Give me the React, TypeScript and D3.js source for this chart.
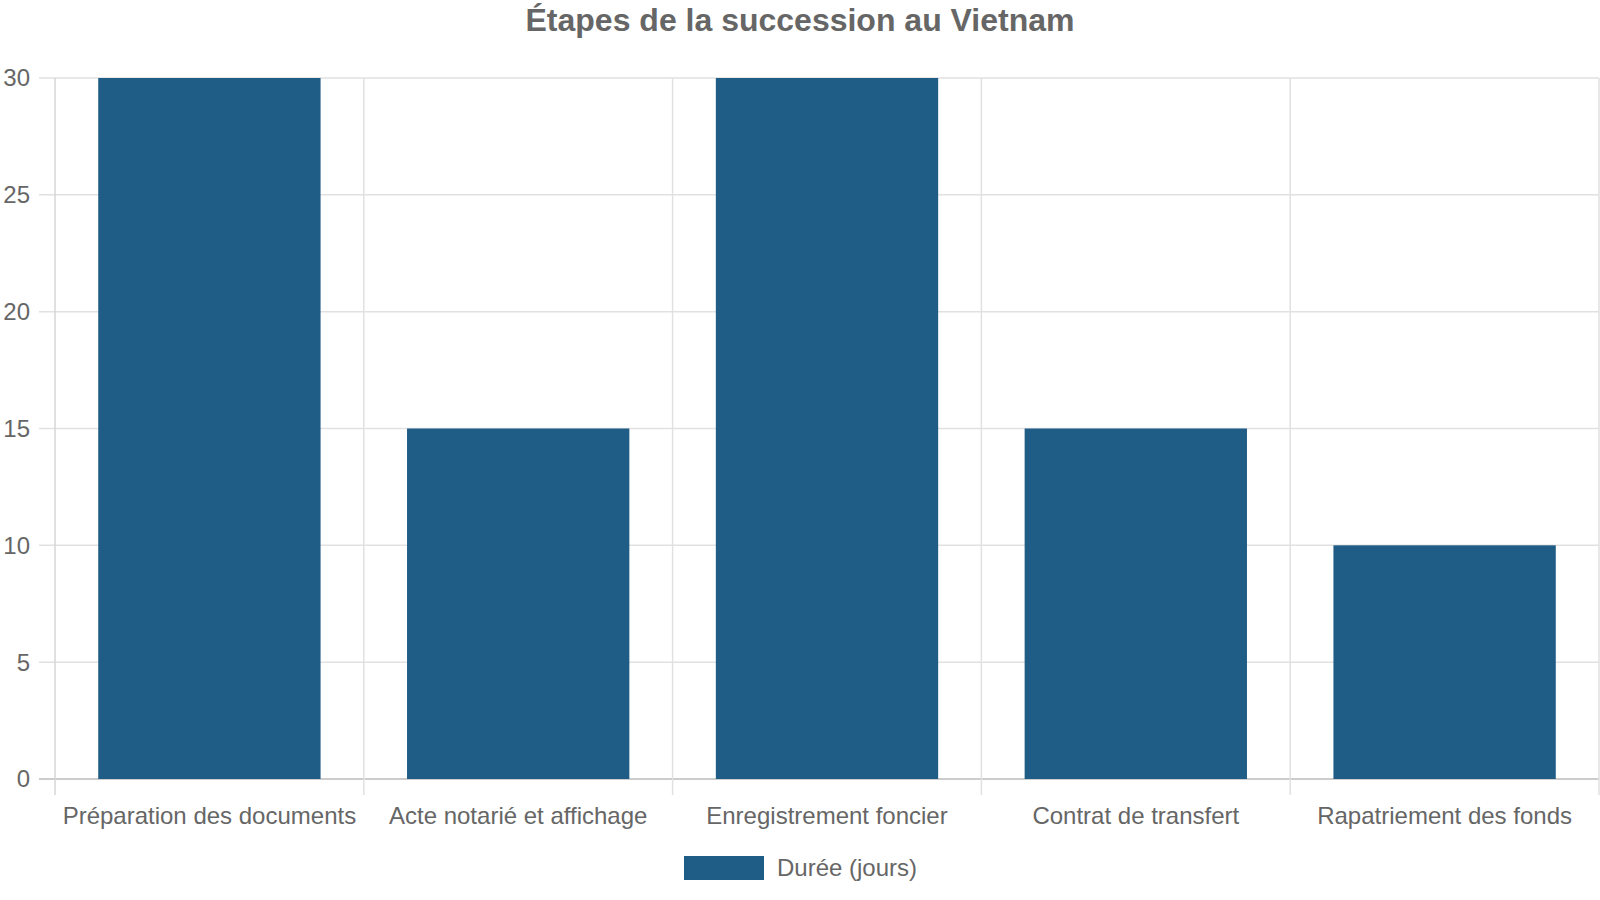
import React from 'react';
import * as d3 from 'd3';

const categories = [
  'Préparation des documents',
  'Acte notarié et affichage',
  'Enregistrement foncier',
  'Contrat de transfert',
  'Rapatriement des fonds',
];
const durations = [30, 15, 30, 15, 10];
const yTicks = [0, 5, 10, 15, 20, 25, 30];
const seriesLabel = 'Durée (jours)';
const chartTitle = 'Étapes de la succession au Vietnam';

const width = 1600;
const height = 900;
const margin = { top: 78, right: 1, bottom: 121, left: 55 };
const barColor = '#1f5c86';
const textColor = '#666';
const gridColor = '#e1e1e1';
const font = '"Liberation Sans", Arial, sans-serif';

export default function App() {
  const x = d3
    .scaleBand<string>()
    .domain(categories)
    .range([margin.left, width - margin.right]);

  const y = d3
    .scaleLinear()
    .domain([0, 30])
    .range([height - margin.bottom, margin.top]);

  // bars take 80% of the category, then 90% of that
  const barW = x.bandwidth() * 0.72;
  const barOff = (x.bandwidth() - barW) / 2;

  const x0 = margin.left;
  const x1 = width - margin.right;
  const yBottom = y(0);

  // band edges for the vertical grid
  const edges = categories.map((c) => x(c) as number).concat([x1]);

  return (
    <div style={{ position: 'absolute', left: 0, top: 0 }}>
      <svg width={width} height={height} style={{ display: 'block', fontFamily: font }}>
        <rect width={width} height={height} fill="#fff" />

        <text
          x={width / 2}
          y={31}
          textAnchor="middle"
          fontSize={32}
          fontWeight="bold"
          fill={textColor}
        >
          {chartTitle}
        </text>

        {/* horizontal grid + y ticks */}
        {yTicks.map((t) => (
          <g key={t}>
            <line
              x1={x0 - 16}
              x2={x1}
              y1={y(t)}
              y2={y(t)}
              stroke={t === 0 ? '#ccc' : gridColor}
              strokeWidth={t === 0 ? 2 : 1.5}
            />
            <text
              x={30}
              y={y(t)}
              dy="0.35em"
              textAnchor="end"
              fontSize={24}
              fill={textColor}
            >
              {t}
            </text>
          </g>
        ))}

        {/* vertical grid at category edges */}
        {edges.map((e, i) => (
          <line
            key={i}
            x1={e}
            x2={e}
            y1={margin.top}
            y2={yBottom + 16}
            stroke={i === 0 ? '#d6d6d6' : gridColor}
            strokeWidth={1.5}
          />
        ))}

        {categories.map((c, i) => (
          <rect
            key={c}
            x={(x(c) as number) + barOff}
            y={y(durations[i])}
            width={barW}
            height={yBottom - y(durations[i])}
            fill={barColor}
          />
        ))}

        {categories.map((c) => (
          <text
            key={c}
            x={(x(c) as number) + x.bandwidth() / 2}
            y={yBottom + 37}
            dy="0.35em"
            textAnchor="middle"
            fontSize={24}
            fill={textColor}
          >
            {c}
          </text>
        ))}

        {/* legend */}
        <rect x={684} y={856} width={80} height={24} fill={barColor} />
        <text x={777} y={868} dy="0.35em" fontSize={24} fill={textColor}>
          {seriesLabel}
        </text>
      </svg>
    </div>
  );
}
